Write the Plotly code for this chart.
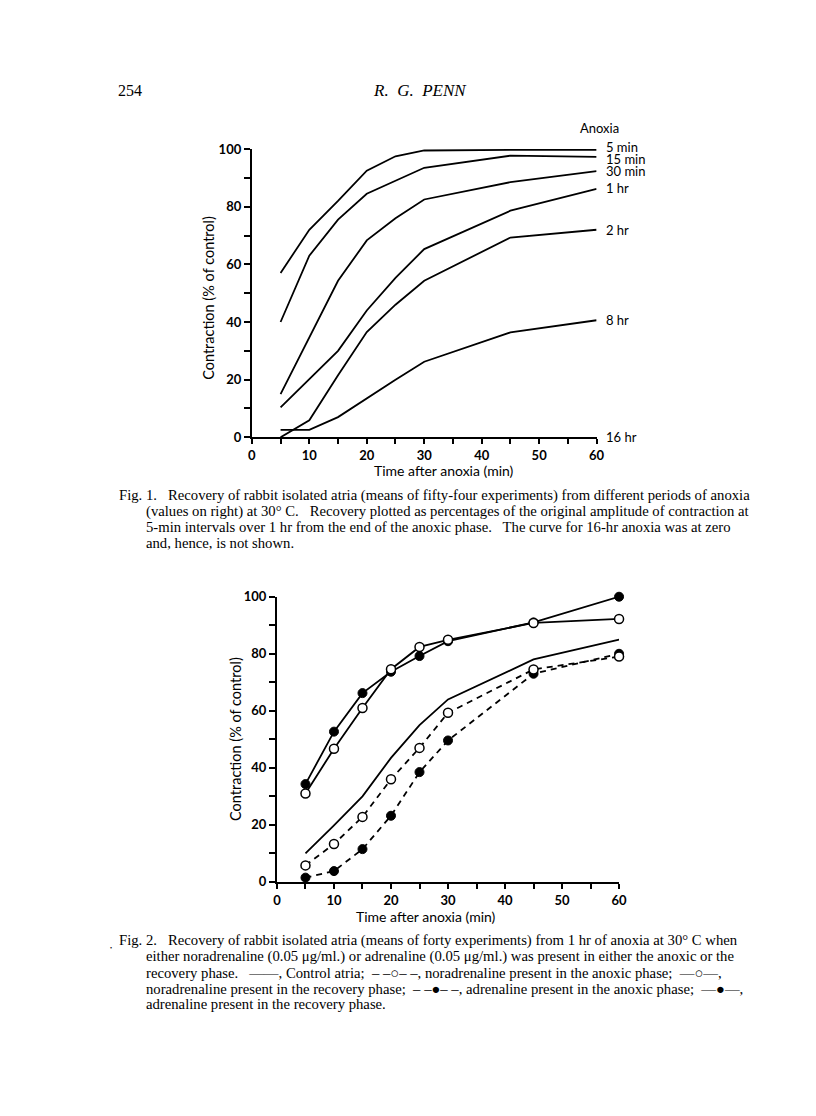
import plotly.graph_objects as go

# ---------------- data ----------------
minutes = [5, 10, 15, 20, 25, 30, 45, 60]

# Fig. 1 : recovery after different periods of anoxia
fig1_labels = ["5 min", "15 min", "30 min", "1 hr", "2 hr", "8 hr"]
anoxia_5min = [57, 72, 82, 92.5, 97.5, 99.5, 99.7, 99.7]
anoxia_15min = [40, 63, 75.5, 84.5, 89, 93.5, 97.7, 97.3]
anoxia_30min = [15, 34.5, 54.3, 68.3, 76, 82.5, 88.5, 92.3]
anoxia_1hr = [10.4, 20.2, 30, 44, 55.3, 65.3, 78.6, 86.2]
anoxia_2hr = [0, 5.9, 21.5, 36.5, 46, 54.3, 69.3, 72]
anoxia_8hr = [2.6, 2.6, 7, 13.6, 20, 26.2, 36.4, 40.6]
label_16hr = "16 hr"

# Fig. 2 : 1 hr anoxia with noradrenaline / adrenaline
control = [10, 19.8, 30, 43.5, 55, 64, 78, 85]
nor_anoxic = [5.8, 13.3, 22.8, 36, 47, 59.3, 74.5, 79]
nor_recovery = [31, 46.7, 61, 74.6, 82.4, 84.9, 90.8, 92.2]
adr_anoxic = [1.5, 3.8, 11.5, 23.2, 38.5, 49.6, 73, 80]
adr_recovery = [34.3, 52.7, 66.2, 73.7, 79.2, 84.4, 91, 100]

x_ticks = [0, 5, 10, 15, 20, 25, 30, 35, 40, 45, 50, 55, 60]
x_ticktext = ["0", "", "10", "", "20", "", "30", "", "40", "", "50", "", "60"]
y_ticks = [0, 10, 20, 30, 40, 50, 60, 70, 80, 90, 100]
y_ticktext = ["0", "", "20", "", "40", "", "60", "", "80", "", "100"]

# ---------------- layout helpers ----------------
PAGE_W, PAGE_H = 816, 1116
OFF = 8                      # default body margin of the html page
W, H = PAGE_W - 2 * OFF, PAGE_H - 2 * OFF


def px(x):
    return (x - OFF) / W


def py(y):
    return 1 - (y - OFF) / H


SANS = "Lato"
SERIF = "Liberation Serif"
LW = 1.8

fig = go.Figure()

# Fig 1 traces
fig1_series = [anoxia_5min, anoxia_15min, anoxia_30min, anoxia_1hr, anoxia_2hr, anoxia_8hr]
for name, vals in zip(fig1_labels, fig1_series):
    fig.add_trace(go.Scatter(x=minutes, y=vals, mode="lines", name=name,
                             line=dict(color="black", width=LW),
                             xaxis="x", yaxis="y", showlegend=False,
                             hoverinfo="skip", cliponaxis=False))

# Fig 2 traces
fig.add_trace(go.Scatter(x=minutes, y=control, mode="lines",
                         line=dict(color="black", width=LW),
                         xaxis="x2", yaxis="y2", showlegend=False, cliponaxis=False))
fig.add_trace(go.Scatter(x=minutes, y=adr_anoxic, mode="lines+markers",
                         line=dict(color="black", width=LW, dash="6px,5px"),
                         marker=dict(symbol="circle", size=9, color="black",
                                     line=dict(color="black", width=1)),
                         xaxis="x2", yaxis="y2", showlegend=False, cliponaxis=False))
fig.add_trace(go.Scatter(x=minutes, y=nor_anoxic, mode="lines+markers",
                         line=dict(color="black", width=LW, dash="6px,5px"),
                         marker=dict(symbol="circle", size=9, color="white",
                                     line=dict(color="black", width=1.5)),
                         xaxis="x2", yaxis="y2", showlegend=False, cliponaxis=False))
fig.add_trace(go.Scatter(x=minutes, y=adr_recovery, mode="lines+markers",
                         line=dict(color="black", width=LW),
                         marker=dict(symbol="circle", size=9, color="black",
                                     line=dict(color="black", width=1)),
                         xaxis="x2", yaxis="y2", showlegend=False, cliponaxis=False))
fig.add_trace(go.Scatter(x=minutes, y=nor_recovery, mode="lines+markers",
                         line=dict(color="black", width=LW),
                         marker=dict(symbol="circle", size=9, color="white",
                                     line=dict(color="black", width=1.5)),
                         xaxis="x2", yaxis="y2", showlegend=False, cliponaxis=False))

tickfont = dict(family=SANS, size=13, color="black", weight="bold")
axis_common = dict(showgrid=False, zeroline=False, showline=True, linecolor="black",
                   linewidth=2, ticks="outside", tickcolor="black", tickwidth=1.5,
                   tickfont=tickfont, fixedrange=True)

# pixel geometry of the two plots (page pixels)
f1 = dict(x0=251.5, x1=601.5, y0=435.5, y1=143)
f2 = dict(x0=277, x1=624.3, y0=886.7, y1=597.3)

fig.update_layout(
    width=W, height=H, autosize=False,
    margin=dict(l=0, r=0, t=0, b=0),
    paper_bgcolor="white", plot_bgcolor="rgba(0,0,0,0)",
    xaxis=dict(domain=[px(f1["x0"]), px(f1["x1"])], range=[0, 60], anchor="y",
               tickvals=x_ticks, ticktext=x_ticktext, ticklen=5, **axis_common),
    yaxis=dict(domain=[py(f1["y0"]), py(f1["y1"])], range=[0, 100], anchor="x",
               tickvals=y_ticks, ticktext=y_ticktext, ticklen=6, **axis_common),
    xaxis2=dict(domain=[px(f2["x0"]), px(f2["x1"])], range=[0, 60], anchor="y2",
                tickvals=x_ticks, ticktext=x_ticktext, ticklen=5, **axis_common),
    yaxis2=dict(domain=[py(f2["y0"]), py(f2["y1"])], range=[0, 100], anchor="x2",
                tickvals=y_ticks, ticktext=y_ticktext, ticklen=6, **axis_common),
)

ann = []


def text(x, y, s, size=13, family=SANS, xanchor="center", angle=0, style="normal"):
    ann.append(dict(x=px(x), y=py(y), xref="paper", yref="paper", text=s,
                    showarrow=False, xanchor=xanchor, yanchor="middle",
                    textangle=angle,
                    font=dict(family=family, size=size, color="black", style=style)))


# header
text(114, 84, "254", size=16, family=SERIF, xanchor="left")
text(422, 84, "R.  G.  PENN", size=17, family=SERIF, style="italic")

# Fig 1 axis titles and right-hand labels
text(208, 294, "Contraction (% of control)", size=14.5, angle=-90)
text(447, 469, "Time after anoxia (min)", size=14)
text(604, 122, "Anoxia", size=13)
label_shift = [3, -2, 0, 1, 0, 0]
for name, vals, dy in zip(fig1_labels, fig1_series, label_shift):
    ann.append(dict(x=minutes[-1], y=vals[-1], xref="x", yref="y", text=name,
                    showarrow=False, xanchor="left", yanchor="middle",
                    xshift=7, yshift=dy,
                    font=dict(family=SANS, size=13, color="black")))
ann.append(dict(x=minutes[-1], y=0, xref="x", yref="y", text=label_16hr,
                showarrow=False, xanchor="left", yanchor="middle", xshift=7,
                font=dict(family=SANS, size=13, color="black")))

# Fig 2 axis titles
text(235, 742, "Contraction (% of control)", size=14.5, angle=-90)
text(428, 922, "Time after anoxia (min)", size=14)

# captions
CAP = 14.7
cap1 = [
    (115, 495, "Fig. 1.   Recovery of rabbit isolated atria (means of fifty-four experiments) from different periods of anoxia"),
    (142, 511, "(values on right) at 30° C.   Recovery plotted as percentages of the original amplitude of contraction at"),
    (142, 527, "5-min intervals over 1 hr from the end of the anoxic phase.   The curve for 16-hr anoxia was at zero"),
    (142, 543, "and, hence, is not shown."),
]
cap2 = [
    (115, 946, "Fig. 2.   Recovery of rabbit isolated atria (means of forty experiments) from 1 hr of anoxia at 30° C when"),
    (142, 962, "either noradrenaline (0.05 μg/ml.) or adrenaline (0.05 μg/ml.) was present in either the anoxic or the"),
    (142, 979, "recovery phase.   ——, Control atria;  – –○– –, noradrenaline present in the anoxic phase;  —○—,"),
    (142, 995, "noradrenaline present in the recovery phase;  – –●– –, adrenaline present in the anoxic phase;  —●—,"),
    (142, 1011, "adrenaline present in the recovery phase."),
]
for x, y, s in cap1 + cap2:
    text(x, y, s, size=CAP, family=SERIF, xanchor="left")
text(109, 954, "•", size=6, family=SERIF)

fig.update_layout(annotations=ann)

fig.write_html("out.html", config={"displayModeBar": False})
